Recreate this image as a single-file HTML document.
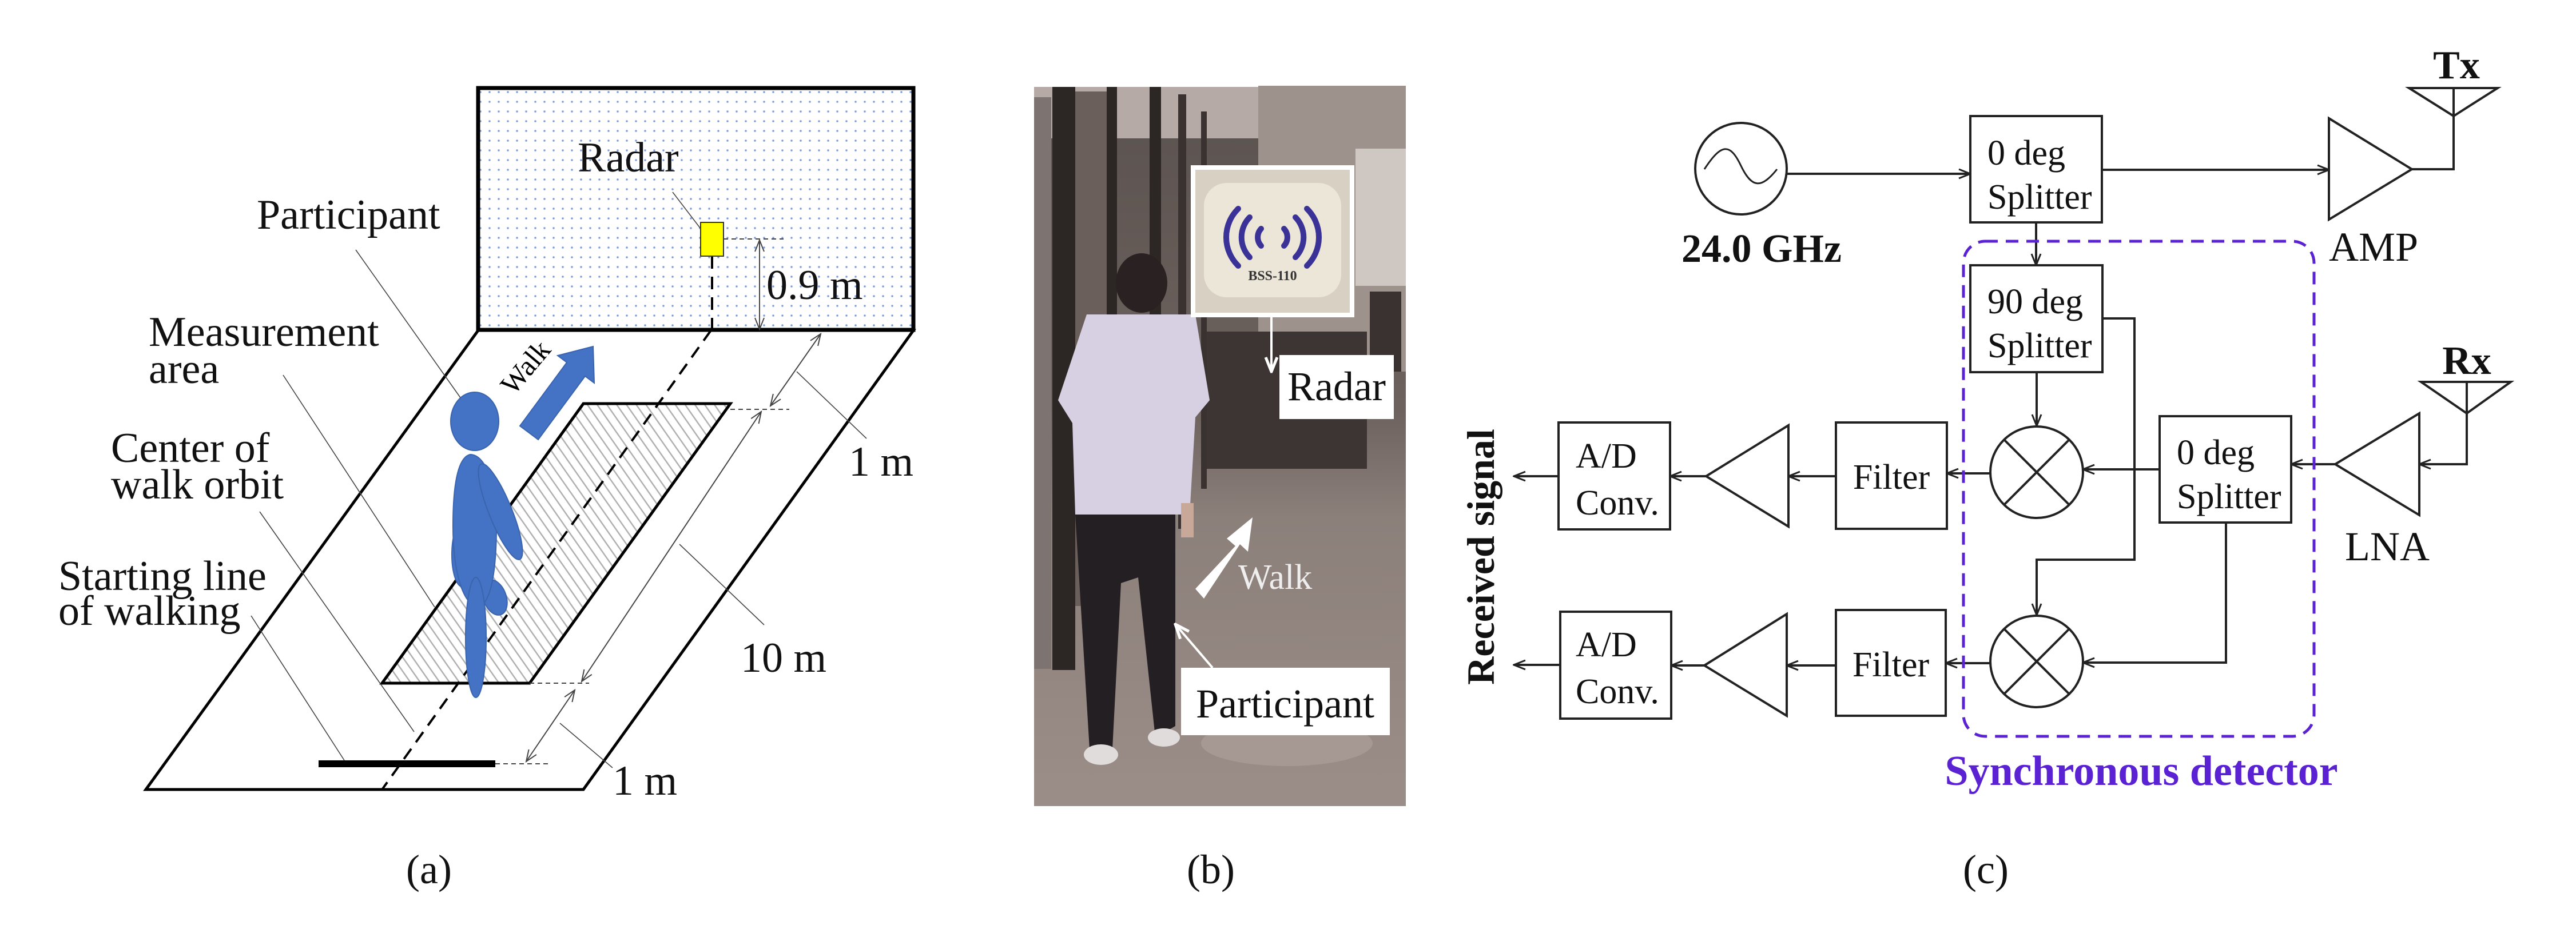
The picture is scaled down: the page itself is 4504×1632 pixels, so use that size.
<!DOCTYPE html>
<html><head><meta charset="utf-8"><style>
html,body{margin:0;padding:0;background:#fff;}
svg{display:block;}
text{font-family:"Liberation Serif",serif;}
</style></head><body>
<svg width="4504" height="1632" viewBox="0 0 4504 1632" xmlns="http://www.w3.org/2000/svg">
<defs>
<pattern id="dots" width="16" height="17" patternUnits="userSpaceOnUse">
<circle cx="8" cy="8" r="1.8" fill="#7d9fe0"/>
</pattern>
<pattern id="hatch" width="14" height="14" patternUnits="userSpaceOnUse" patternTransform="rotate(-35)">
<rect width="14" height="14" fill="#fff"/>
<line x1="0" y1="0" x2="0" y2="14" stroke="#b0b0b0" stroke-width="5"/>
</pattern>
<marker id="ar" viewBox="0 0 24 20" refX="22" refY="10" markerWidth="24" markerHeight="20" markerUnits="userSpaceOnUse" orient="auto-start-reverse">
<path d="M2,2 L22,10 L2,18" fill="none" stroke="#222" stroke-width="3"/>
</marker>
<marker id="ar2" viewBox="0 0 24 20" refX="22" refY="10" markerWidth="24" markerHeight="20" markerUnits="userSpaceOnUse" orient="auto-start-reverse">
<path d="M2,2 L22,10 L2,18" fill="none" stroke="#444" stroke-width="2"/>
</marker>
<marker id="arw" viewBox="0 0 24 20" refX="22" refY="10" markerWidth="30" markerHeight="26" markerUnits="userSpaceOnUse" orient="auto">
<path d="M2,2 L22,10 L2,18" fill="none" stroke="#fff" stroke-width="4"/>
</marker>
<linearGradient id="floor" x1="0" y1="0" x2="0" y2="1">
<stop offset="0" stop-color="#5a524f"/><stop offset="0.45" stop-color="#6d625e"/><stop offset="0.6" stop-color="#8c807b"/><stop offset="1" stop-color="#9b8d87"/>
</linearGradient>
</defs>

<!-- ============ PANEL A ============ -->
<rect x="836" y="154" width="761" height="423" fill="url(#dots)" stroke="#000" stroke-width="7"/>
<path d="M836,578 L1597,578 L1020,1381 L255,1381 Z" fill="none" stroke="#000" stroke-width="5"/>
<path d="M1020,706 L1277,706 L926,1195 L668,1195 Z" fill="url(#hatch)" stroke="#000" stroke-width="5"/>
<line x1="557" y1="1336" x2="866" y2="1336" stroke="#000" stroke-width="12"/>
<line x1="1243" y1="578" x2="668" y2="1381" stroke="#000" stroke-width="4" stroke-dasharray="22,14"/>
<line x1="1245" y1="448" x2="1245" y2="578" stroke="#000" stroke-width="4" stroke-dasharray="22,14"/>
<rect x="1225" y="389" width="40" height="59" fill="#ffff00" stroke="#333" stroke-width="2"/>
<g stroke="#444" stroke-width="2" stroke-dasharray="8,6">
<line x1="1265" y1="418" x2="1370" y2="418"/>
<line x1="1277" y1="716" x2="1380" y2="716"/>
<line x1="926" y1="1195" x2="1030" y2="1195"/>
<line x1="866" y1="1336" x2="960" y2="1336"/>
</g>
<g stroke="#444" stroke-width="2" fill="none">
<line x1="1328" y1="420" x2="1328" y2="576" marker-start="url(#ar2)" marker-end="url(#ar2)"/>
<line x1="1435" y1="584" x2="1347" y2="710" marker-start="url(#ar2)" marker-end="url(#ar2)"/>
<line x1="1331" y1="720" x2="1017" y2="1192" marker-start="url(#ar2)" marker-end="url(#ar2)"/>
<line x1="1005" y1="1207" x2="920" y2="1332" marker-start="url(#ar2)" marker-end="url(#ar2)"/>
</g>
<g stroke="#444" stroke-width="1.6">
<line x1="1176" y1="336" x2="1225" y2="400"/>
<line x1="622" y1="437" x2="806" y2="697"/>
<line x1="495" y1="656" x2="760" y2="1062"/>
<line x1="454" y1="895" x2="724" y2="1280"/>
<line x1="439" y1="1077" x2="602" y2="1330"/>
<line x1="1393" y1="650" x2="1515" y2="767"/>
<line x1="1188" y1="952" x2="1336" y2="1093"/>
<line x1="979" y1="1265" x2="1071" y2="1343"/>
</g>
<g fill="#4472c4" stroke="#3a64ad" stroke-width="2">
<ellipse cx="830" cy="737" rx="42" ry="51"/>
<ellipse cx="808" cy="970" rx="18" ry="56"/>
<ellipse cx="865" cy="1045" rx="20" ry="32" transform="rotate(-20 865 1045)"/>
<path d="M822,795 C800,800 792,850 792,920 C792,1000 810,1060 835,1060 C860,1060 868,990 868,920 C868,850 850,795 822,795 Z"/>
<ellipse cx="832" cy="1115" rx="18" ry="105"/>
<ellipse cx="875" cy="895" rx="20" ry="90" transform="rotate(-22 875 895)"/>
</g>
<path d="M941,769 L1023,658 L1039,670 L1037,606 L975,622 L991,634 L909,745 Z" fill="#4472c4" stroke="#3a64ad" stroke-width="2"/>
<text x="0" y="0" font-size="50" transform="translate(898,693) rotate(-50)">Walk</text>
<g font-size="74" fill="#111">
<text x="1010" y="300">Radar</text>
<text x="449" y="400">Participant</text>
<text x="260" y="605">Measurement</text>
<text x="260" y="670">area</text>
<text x="194" y="808">Center of</text>
<text x="194" y="872">walk orbit</text>
<text x="102" y="1032">Starting line</text>
<text x="102" y="1093">of walking</text>
<text x="1340" y="523">0.9 m</text>
<text x="1484" y="832">1 m</text>
<text x="1295" y="1175">10 m</text>
<text x="1071" y="1390">1 m</text>
<text x="750" y="1545" text-anchor="middle" font-size="72">(a)</text>
</g>

<!-- ============ PANEL B ============ -->
<rect x="1808" y="152" width="650" height="1258" fill="url(#floor)"/>
<rect x="1808" y="152" width="650" height="90" fill="#b5aaa5"/>
<rect x="2200" y="150" width="258" height="500" fill="#9e928c"/>
<rect x="2370" y="260" width="88" height="240" fill="#cfc8c2"/>
<rect x="1808" y="170" width="30" height="1000" fill="#7d7370"/>
<rect x="1840" y="152" width="40" height="1020" fill="#2c2624"/>
<rect x="1880" y="160" width="60" height="900" fill="#6a5f5b"/>
<rect x="1935" y="152" width="18" height="880" fill="#2c2624"/>
<rect x="2010" y="152" width="20" height="850" fill="#2c2624"/>
<rect x="2060" y="165" width="14" height="760" fill="#3a3230"/>
<rect x="2100" y="195" width="10" height="660" fill="#3a3230"/>
<rect x="2110" y="580" width="280" height="240" fill="#3d3533"/>
<rect x="2395" y="510" width="55" height="140" fill="#3a3230"/>
<ellipse cx="2250" cy="1300" rx="150" ry="40" fill="#b4a8a2" opacity="0.5"/>
<ellipse cx="1996" cy="495" rx="45" ry="52" fill="#2a2222"/>
<path d="M1900,550 L2090,550 L2115,700 L2090,730 L2080,900 L1880,900 L1875,740 L1850,700 Z" fill="#d7d0e2"/>
<path d="M1880,900 L2055,900 L2055,1270 L2020,1290 L1990,1010 L1960,1020 L1945,1310 L1905,1310 Z" fill="#231f22"/>
<ellipse cx="1925" cy="1320" rx="30" ry="18" fill="#e0dcdc"/>
<ellipse cx="2035" cy="1290" rx="28" ry="16" fill="#e0dcdc"/>
<rect x="2065" y="880" width="22" height="60" fill="#c8a898"/>
<rect x="2082" y="289" width="286" height="266" fill="#fff"/>
<rect x="2090" y="297" width="270" height="250" fill="#d9d0c4"/>
<rect x="2105" y="320" width="240" height="200" rx="40" fill="#ece6d8"/>
<g fill="none" stroke="#3a3296" stroke-width="10" stroke-linecap="round">
<path d="M2165,365 A70,70 0 0 0 2165,465"/><path d="M2185,380 A50,50 0 0 0 2185,450"/><path d="M2205,400 A22,22 0 0 0 2205,430"/>
<path d="M2285,365 A70,70 0 0 1 2285,465"/><path d="M2265,380 A50,50 0 0 1 2265,450"/><path d="M2245,400 A22,22 0 0 1 2245,430"/>
</g>
<text x="2225" y="490" text-anchor="middle" font-family="Liberation Sans,sans-serif" font-size="24" font-weight="bold" fill="#333">BSS-110</text>
<line x1="2223" y1="555" x2="2223" y2="650" stroke="#fff" stroke-width="4" marker-end="url(#arw)"/>
<rect x="2237" y="621" width="200" height="112" fill="#fff"/>
<text x="2337" y="700" text-anchor="middle" font-size="72" fill="#111">Radar</text>
<path d="M2090,1030 L2160,955 L2145,942 L2190,905 L2182,965 L2168,952 L2105,1047 Z" fill="#fff"/>
<text x="2165" y="1030" font-family="Liberation Sans,sans-serif" font-size="62" fill="#eee">Walk</text>
<line x1="2120" y1="1168" x2="2055" y2="1092" stroke="#fff" stroke-width="4" marker-end="url(#arw)"/>
<rect x="2065" y="1168" width="365" height="118" fill="#fff"/>
<text x="2247" y="1255" text-anchor="middle" font-size="72" fill="#111">Participant</text>
<text x="2117" y="1545" text-anchor="middle" font-size="72" fill="#111">(b)</text>

<!-- ============ PANEL C ============ -->
<g stroke="#222" stroke-width="4" fill="none">
<circle cx="3044" cy="295" r="80"/>
<path d="M2980,296 C3010,250 3025,250 3044,290 C3063,330 3080,330 3107,296" stroke-width="3"/>
<line x1="3124" y1="304" x2="3445" y2="304" marker-end="url(#ar)"/>
<rect x="3445" y="203" width="230" height="186" fill="#fff"/>
<line x1="3675" y1="297" x2="4072" y2="297" marker-end="url(#ar)"/>
<path d="M4072,207 L4217,296 L4072,384 Z"/>
<path d="M4217,296 L4290,296 L4290,154"/>
<path d="M4212,154 L4367,154 L4290,203 Z"/>
<line x1="3560" y1="389" x2="3560" y2="464" marker-end="url(#ar)"/>
<rect x="3445" y="464" width="231" height="187" fill="#fff"/>
<line x1="3561" y1="651" x2="3561" y2="745" marker-end="url(#ar)"/>
<path d="M3676,557 L3732,557 L3732,979 L3561,979 L3561,1076" marker-end="url(#ar)"/>
<ellipse cx="3561" cy="826" rx="81" ry="80" fill="none"/>
<line x1="3504" y1="769" x2="3618" y2="883"/><line x1="3618" y1="769" x2="3504" y2="883"/>
<ellipse cx="3561" cy="1157" rx="81" ry="80"/>
<line x1="3504" y1="1100" x2="3618" y2="1214"/><line x1="3618" y1="1100" x2="3504" y2="1214"/>
<rect x="3776" y="728" width="230" height="186" fill="#fff"/>
<line x1="3776" y1="821" x2="3642" y2="821" marker-end="url(#ar)"/>
<path d="M3892,914 L3892,1159 L3642,1159" marker-end="url(#ar)"/>
<path d="M4083,812 L4230,723 L4230,901 Z"/>
<line x1="4083" y1="812" x2="4006" y2="812" marker-end="url(#ar)"/>
<path d="M4233,668 L4390,668 L4313,723 Z"/>
<path d="M4313,668 L4313,812 L4230,812" marker-end="url(#ar)"/>
<line x1="3480" y1="828" x2="3404" y2="828" marker-end="url(#ar)"/>
<rect x="3210" y="739" width="194" height="186" fill="#fff"/>
<line x1="3210" y1="833" x2="3127" y2="833" marker-end="url(#ar)"/>
<path d="M2983,833 L3127,744 L3127,921 Z"/>
<line x1="2983" y1="833" x2="2920" y2="833" marker-end="url(#ar)"/>
<rect x="2725" y="739" width="195" height="187" fill="#fff"/>
<line x1="2725" y1="833" x2="2647" y2="833" marker-end="url(#ar)"/>
<line x1="3480" y1="1160" x2="3402" y2="1160" marker-end="url(#ar)"/>
<rect x="3210" y="1067" width="192" height="185" fill="#fff"/>
<line x1="3210" y1="1164" x2="3124" y2="1164" marker-end="url(#ar)"/>
<path d="M2980,1164 L3124,1074 L3124,1252 Z"/>
<line x1="2980" y1="1164" x2="2922" y2="1164" marker-end="url(#ar)"/>
<rect x="2728" y="1070" width="194" height="187" fill="#fff"/>
<line x1="2728" y1="1163" x2="2647" y2="1163" marker-end="url(#ar)"/>
</g>
<rect x="3433" y="422" width="613" height="866" rx="38" fill="none" stroke="#5a22d2" stroke-width="5" stroke-dasharray="22,14"/>
<g font-size="62" fill="#111">
<text x="3475" y="288">0 deg</text><text x="3475" y="365">Splitter</text>
<text x="3475" y="548">90 deg</text><text x="3475" y="625">Splitter</text>
<text x="3806" y="812">0 deg</text><text x="3806" y="889">Splitter</text>
<text x="3307" y="855" text-anchor="middle">Filter</text>
<text x="3306" y="1183" text-anchor="middle">Filter</text>
<text x="2755" y="818">A/D</text><text x="2755" y="900">Conv.</text>
<text x="2755" y="1148">A/D</text><text x="2755" y="1230">Conv.</text>
</g>
<g font-size="72" fill="#111">
<text x="4072" y="456">AMP</text>
<text x="4100" y="980">LNA</text>
<text x="3472" y="1545" text-anchor="middle">(c)</text>
</g>
<g font-weight="bold" fill="#111">
<text x="3080" y="458" text-anchor="middle" font-size="70">24.0 GHz</text>
<text x="4295" y="137" text-anchor="middle" font-size="70">Tx</text>
<text x="4313" y="654" text-anchor="middle" font-size="70">Rx</text>
<text transform="translate(2612,974) rotate(-90)" text-anchor="middle" font-size="68">Received signal</text>
<text x="3744" y="1373" text-anchor="middle" font-size="74" fill="#5a22d2">Synchronous detector</text>
</g>
</svg>
</body></html>
